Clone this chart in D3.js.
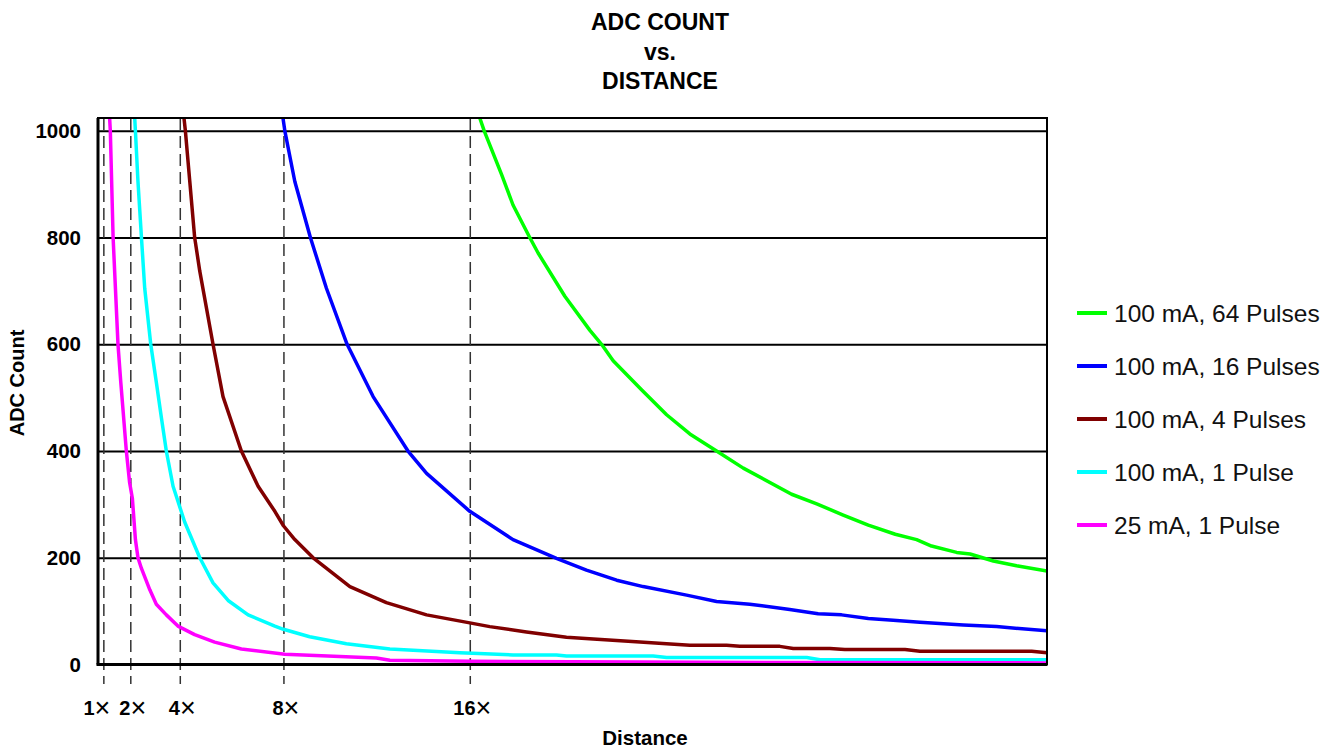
<!DOCTYPE html>
<html>
<head>
<meta charset="utf-8">
<script src="https://cdn.jsdelivr.net/npm/d3@7"></script>
<style>
  body { margin: 0; background: #fff; }
  svg { font-family: "Liberation Sans", Arial, Helvetica, sans-serif; }
</style>
</head>
<body>
<div id="chart"></div>
<script>
// distance marks (axis units) and their labels
var distMarks = [0.23, 1.39, 3.52, 7.98, 16.0];
var distLabels = ["1", "2", "4", "8", "16"];
var countTicks = [0, 200, 400, 600, 800, 1000];

var seriesNames = ["100 mA, 64 Pulses", "100 mA, 16 Pulses", "100 mA, 4 Pulses", "100 mA, 1 Pulse", "25 mA, 1 Pulse"];
var seriesColors = ["#00ff00", "#0000ff", "#800000", "#00ffff", "#ff00ff"];

// [distance, ADC count]
var pulses64 = [[16.43,1024],[16.62,1000],[17.37,918],[17.86,861],[18.58,800],[18.94,771],[20.09,690],[21.17,626],
  [21.67,600],[22.17,569],[23.39,515],[24.47,468],[25.47,432],[26.62,400],[27.77,368],[29.85,319],[30.93,301],
  [32.07,280],[33.15,261],[34.31,244],[35.23,234],[35.87,222],[36.95,210],[37.53,207],[38.53,194],[39.53,185],[40.84,175]];
var pulses16 = [[7.96,1024],[8.04,1000],[8.47,905],[9.14,800],[9.83,705],[10.72,600],[11.84,502],[13.34,400],
  [14.14,358],[16.0,287],[17.86,234],[19.73,199],[21.02,177],[22.32,158],[23.46,146],[25.33,130],[26.62,118],
  [28.05,113],[29.77,103],[30.99,95],[32.0,93],[33.15,86],[34.22,83],[35.37,79],[37.24,74],[38.67,71],[40.84,63]];
var pulses4 = [[3.70,1024],[3.76,1000],[3.95,905],[4.16,800],[4.38,737],[4.95,600],[5.38,502],[6.17,400],
  [6.89,334],[7.61,287],[7.98,260],[8.47,234],[9.26,200],[10.84,146],[12.41,116],[14.14,93],[16.0,78],
  [16.86,71],[18.44,61],[20.16,51],[21.31,48],[23.32,42],[24.47,39],[25.47,36],[27.05,36],[27.62,34],
  [29.34,34],[29.92,30],[31.50,30],[32.14,28],[34.73,28],[35.37,25],[40.18,25],[40.84,22]];
var pulse1 = [[1.58,1024],[1.61,1000],[1.72,905],[1.87,800],[2.01,705],[2.27,600],[2.51,529],[2.73,462],
  [2.94,400],[3.23,334],[3.73,267],[4.38,200],[4.95,153],[5.60,120],[6.46,93],[7.61,72],[7.98,66],[9.11,52],
  [10.69,39],[12.56,29],[15.57,22],[17.86,18],[19.73,18],[20.16,16],[23.89,16],[24.47,13],[30.50,13],
  [31.07,9],[40.84,9]];
var low1 = [[0.50,1024],[0.53,1000],[0.65,800],[0.86,600],[0.98,529],[1.22,400],[1.36,341],[1.48,311],
  [1.61,234],[1.72,200],[1.87,180],[2.23,140],[2.51,113],[2.94,93],[3.44,72],[4.16,56],[5.02,42],[6.17,29],
  [8.04,19],[11.98,12],[12.56,8],[16.0,6],[25.9,4],[40.84,3]];

var allSeries = [pulses64, pulses16, pulses4, pulse1, low1];

var svgWidth = 1332, svgHeight = 749;
var margin = { top: 118, left: 98 };
var width = 949, height = 546.5;

var svg = d3.select("#chart").append("svg")
  .attr("width", svgWidth)
  .attr("height", svgHeight);

var chartGroup = svg.append("g")
  .attr("transform", `translate(${margin.left}, ${margin.top})`);

var xScale = d3.scaleLinear().domain([0, 40.84]).range([0, width]);
var yScale = d3.scaleLinear().domain([0, 1024]).range([height, 0]);

// horizontal grid
var grid = chartGroup.append("g")
  .call(d3.axisLeft(yScale).tickValues(countTicks).tickSize(-width).tickFormat(""));
grid.select(".domain").remove();
grid.selectAll("line").attr("stroke", "#000").attr("stroke-width", 2);

// y labels
var yAxis = chartGroup.append("g")
  .call(d3.axisLeft(yScale).tickValues(countTicks).tickSize(0).tickPadding(17).tickFormat(d3.format("d")));
yAxis.select(".domain").remove();
yAxis.selectAll("text")
  .attr("font-size", 20.5).attr("font-weight", "bold").attr("fill", "#000")
  .attr("font-family", "Liberation Sans, Arial, sans-serif");

// dashed distance marks, running from top to below the axis
var xAxis = chartGroup.append("g")
  .call(d3.axisBottom(xScale).tickValues(distMarks).tickSize(height + 19.5).tickPadding(17)
    .tickFormat(function(d, i) { return distLabels[i]; }));
xAxis.select(".domain").remove();
xAxis.selectAll("line")
  .attr("stroke", "#333").attr("stroke-width", 1.5).attr("stroke-dasharray", "12,6");
xAxis.selectAll("text")
  .attr("font-size", 20).attr("font-weight", "bold").attr("fill", "#000")
  .attr("font-family", "Liberation Sans, Arial, sans-serif")
  .attr("dx", function(d, i) { return i == 0 ? -7 : 2; })
  .append("tspan").attr("font-weight", "normal").attr("font-size", 27).attr("dy", "0.05em").text("\u00d7");

// clip the curves to the plot box
chartGroup.append("clipPath").attr("id", "plotClip")
  .append("rect").attr("width", width).attr("height", height);

var line = d3.line()
  .x(d => xScale(d[0]))
  .y(d => yScale(d[1]));

chartGroup.append("g").attr("clip-path", "url(#plotClip)")
  .selectAll("path")
  .data(allSeries)
  .enter()
  .append("path")
  .attr("d", line)
  .attr("fill", "none")
  .attr("stroke", (d, i) => seriesColors[i])
  .attr("stroke-width", 3.5)
  .attr("stroke-linejoin", "round");

// frame
chartGroup.append("rect")
  .attr("width", width).attr("height", height)
  .attr("fill", "none").attr("stroke", "#000").attr("stroke-width", 2);
chartGroup.append("line")
  .attr("x1", 0).attr("x2", 0).attr("y1", 0).attr("y2", height)
  .attr("stroke", "#000").attr("stroke-width", 3);
chartGroup.append("line")
  .attr("x1", -1.5).attr("x2", width).attr("y1", height).attr("y2", height)
  .attr("stroke", "#000").attr("stroke-width", 3);

// title
var title = svg.append("text")
  .attr("text-anchor", "middle")
  .attr("font-size", 23).attr("font-weight", "bold");
["ADC COUNT", "vs.", "DISTANCE"].forEach(function(t, i) {
  title.append("tspan").attr("x", 660).attr("y", 30 + i * 29.5).text(t);
});

// axis titles
svg.append("text")
  .attr("x", 645).attr("y", 745)
  .attr("text-anchor", "middle")
  .attr("font-size", 20.5).attr("font-weight", "bold")
  .text("Distance");
svg.append("text")
  .attr("transform", "translate(24, 383) rotate(-90)")
  .attr("text-anchor", "middle")
  .attr("font-size", 20).attr("font-weight", "bold")
  .text("ADC Count");

// legend
var legend = svg.append("g")
  .selectAll("g")
  .data(seriesNames)
  .enter()
  .append("g")
  .attr("transform", (d, i) => `translate(1077, ${313 + i * 53})`);
legend.append("line")
  .attr("x1", 0).attr("x2", 30)
  .attr("stroke", (d, i) => seriesColors[i])
  .attr("stroke-width", 4);
legend.append("text")
  .attr("x", 37).attr("dy", "0.35em")
  .attr("font-size", 24.5)
  .attr("fill", "#111")
  .text(d => d);
</script>
</body>
</html>
